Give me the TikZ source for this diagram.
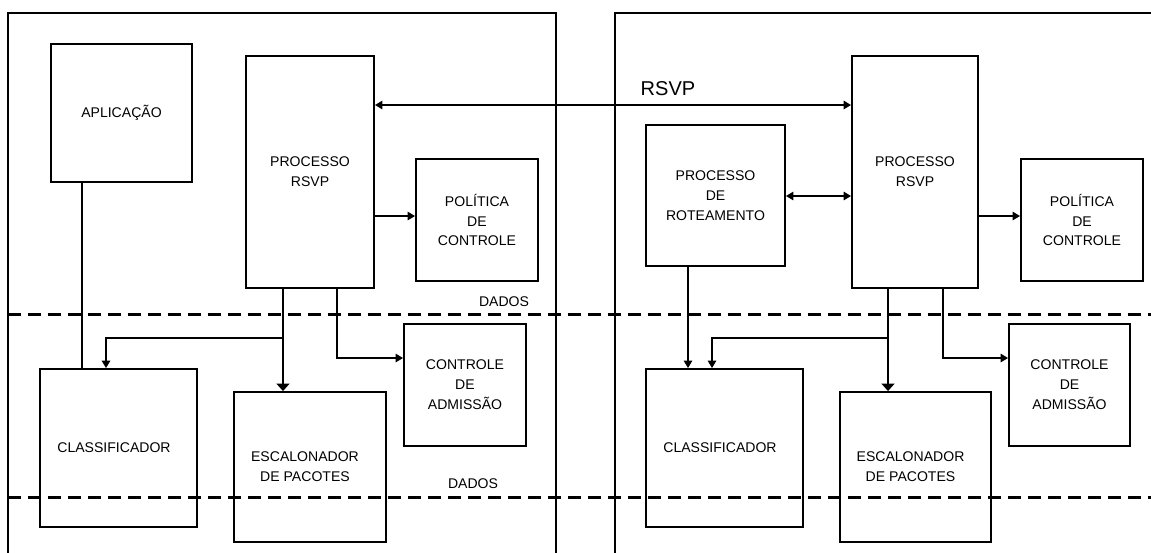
\documentclass[tikz,border=0pt]{standalone}
\usepackage{fontspec}
\setmainfont{Liberation Sans}
\usetikzlibrary{arrows.meta}
\begin{document}
\begin{tikzpicture}[x=0.02cm,y=-0.02cm,
  blk/.style={draw, line width=1.1pt, rectangle, align=center, inner sep=0pt,
    font=\fontsize{8}{11.3}\selectfont},
  frame/.style={line width=0.85pt},
  link/.style={line width=0.9pt},
  tip/.style={-{Triangle[length=0.15cm,width=0.17cm]}},
  tips/.style={{Triangle[length=0.15cm,width=0.17cm]}-{Triangle[length=0.15cm,width=0.17cm]}},
  bigtip/.style={-{Triangle[length=0.15cm,width=0.26cm]}},
  sep/.style={line width=1.7pt, dash pattern=on 0.26cm off 0.14cm},
  lbl/.style={font=\fontsize{8}{10}\selectfont, inner sep=0pt}]
\useasboundingbox (0,0) rectangle (1151,552);

% host and router frames
\draw[frame] (8,560) -- (8,13) -- (556,13) -- (556,560);
\draw[frame] (615,560) -- (615,13) -- (1160,13);

% data-plane separators
\draw[sep] (8,314) -- (1160,314);
\draw[sep] (8,497) -- (1160,497);
\node[lbl] (dados1) at (504,302) {DADOS};
\node[lbl] (dados2) at (473,484) {DADOS};

% host side
\node[blk, minimum width=2.82cm, minimum height=2.76cm] (app) at (121.5,113) {APLICAÇÃO};
\node[blk, minimum width=2.56cm, minimum height=4.64cm] (rsvpL) at (310,172) {PROCESSO\\RSVP};
\node[blk, minimum width=2.44cm, minimum height=2.44cm] (polL) at (477,220) {POLÍTICA\\DE\\CONTROLE};
\node[blk, minimum width=3.14cm, minimum height=3.16cm] (clsL) at (118.5,448) {\hspace*{-0.18cm}CLASSIFICADOR};
\node[blk, minimum width=3.04cm, minimum height=3.0cm] (escL) at (310,467) {\hspace*{-0.2cm}ESCALONADOR\\\hspace*{-0.2cm}DE PACOTES};
\node[blk, minimum width=2.44cm, minimum height=2.44cm] (admL) at (465,385) {CONTROLE\\DE\\ADMISSÃO};

% router side
\node[blk, minimum width=2.78cm, minimum height=2.82cm] (rotR) at (715.5,195.5) {PROCESSO\\DE\\ROTEAMENTO};
\node[blk, minimum width=2.52cm, minimum height=4.64cm] (rsvpR) at (915,172) {PROCESSO\\RSVP};
\node[blk, minimum width=2.44cm, minimum height=2.44cm] (polR) at (1082,220) {POLÍTICA\\DE\\CONTROLE};
\node[blk, minimum width=3.14cm, minimum height=3.16cm] (clsR) at (724.5,448) {\hspace*{-0.18cm}CLASSIFICADOR};
\node[blk, minimum width=3.02cm, minimum height=3.0cm] (escR) at (915.5,467) {\hspace*{-0.2cm}ESCALONADOR\\\hspace*{-0.2cm}DE PACOTES};
\node[blk, minimum width=2.42cm, minimum height=2.44cm] (admR) at (1069.5,385) {CONTROLE\\DE\\ADMISSÃO};

% RSVP signalling between the two processes
\node[font=\fontsize{11.4}{13}\selectfont, inner sep=0pt] (rsvplbl) at (668,89) {RSVP};
\draw[link, tips] (rsvpL.east |- 0,105) -- (rsvpR.west |- 0,105);

% host connectors
\draw[link] (app.south -| 82,0) -- (clsL.north -| 82,0);
\draw[link, tip] (rsvpL.east |- 0,216) -- (polL.west |- 0,216);
\draw[link, bigtip] (rsvpL.south -| 283,0) -- (escL.north -| 283,0);
\draw[link, tip] (283,338) -| (clsL.north -| 106,0);
\draw[link, tip] (rsvpL.south -| 337,0) |- (admL.west |- 0,358);

% router connectors
\draw[link, tips] (rotR.east |- 0,196) -- (rsvpR.west |- 0,196);
\draw[link, tip] (rsvpR.east |- 0,216) -- (polR.west |- 0,216);
\draw[link, tip] (rotR.south -| 688,0) -- (clsR.north -| 688,0);
\draw[link, bigtip] (rsvpR.south -| 888,0) -- (escR.north -| 888,0);
\draw[link, tip] (888,338) -| (clsR.north -| 712,0);
\draw[link, tip] (rsvpR.south -| 943,0) |- (admR.west |- 0,358);
\end{tikzpicture}
\end{document}
